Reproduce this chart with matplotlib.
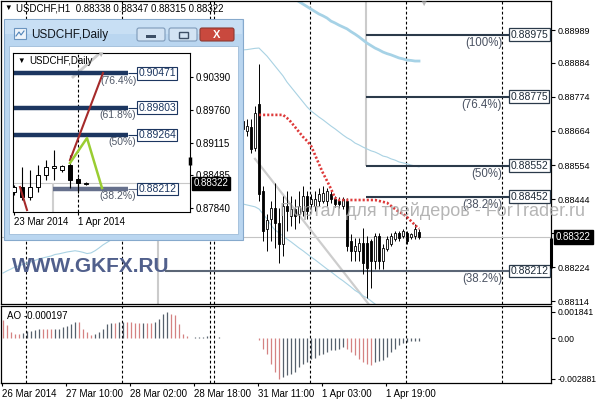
import matplotlib
matplotlib.use('Agg')
import matplotlib.pyplot as plt
import matplotlib.transforms as mtrans
from matplotlib.patches import Rectangle, FancyBboxPatch
import numpy as np

plt.rcParams['font.family'] = ['Liberation Sans', 'DejaVu Sans']

# ---------------- data: USDCHF H1 ----------------
bar0 = 60  # first visible candle index
h1_open = [0.88696, 0.88664, 0.88677, 0.88609, 0.88751, 0.88470, 0.88348, 0.88380, 0.88415, 0.88367,
           0.88299, 0.88422, 0.88390, 0.88412, 0.88396, 0.88406, 0.88454, 0.88428, 0.88422, 0.88438,
           0.88438, 0.88438, 0.88461, 0.88444, 0.88438, 0.88422, 0.88438, 0.88309, 0.88277, 0.88277,
           0.88302, 0.88302, 0.88309, 0.88244, 0.88325, 0.88244, 0.88283, 0.88299, 0.88315, 0.88335,
           0.88325, 0.88335, 0.88322, 0.88325, 0.88338]
h1_high = [0.88713, 0.88703, 0.88703, 0.88745, 0.88881, 0.88486, 0.88396, 0.88438, 0.88496, 0.88415,
           0.88454, 0.88470, 0.88454, 0.88444, 0.88470, 0.88486, 0.88470, 0.88461, 0.88470, 0.88480,
           0.88486, 0.88480, 0.88470, 0.88454, 0.88451, 0.88451, 0.88448, 0.88332, 0.88319, 0.88319,
           0.88351, 0.88325, 0.88315, 0.88335, 0.88335, 0.88299, 0.88325, 0.88335, 0.88341, 0.88341,
           0.88348, 0.88341, 0.88335, 0.88364, 0.88347]
h1_low = [0.88632, 0.88648, 0.88593, 0.88600, 0.88438, 0.88309, 0.88277, 0.88309, 0.88286, 0.88238,
          0.88260, 0.88341, 0.88357, 0.88348, 0.88367, 0.88390, 0.88380, 0.88412, 0.88406, 0.88422,
          0.88432, 0.88422, 0.88432, 0.88419, 0.88415, 0.88412, 0.88277, 0.88244, 0.88244, 0.88244,
          0.88202, 0.88125, 0.88157, 0.88218, 0.88218, 0.88218, 0.88277, 0.88293, 0.88309, 0.88309,
          0.88319, 0.88299, 0.88315, 0.88315, 0.88315]
h1_close = [0.88671, 0.88680, 0.88606, 0.88722, 0.88461, 0.88341, 0.88378, 0.88415, 0.88367, 0.88299,
            0.88422, 0.88406, 0.88412, 0.88390, 0.88422, 0.88454, 0.88406, 0.88444, 0.88444, 0.88461,
            0.88464, 0.88470, 0.88444, 0.88428, 0.88428, 0.88444, 0.88293, 0.88277, 0.88293, 0.88302,
            0.88238, 0.88222, 0.88244, 0.88325, 0.88244, 0.88286, 0.88315, 0.88325, 0.88335, 0.88319,
            0.88341, 0.88309, 0.88332, 0.88348, 0.88322]

sar_start = 64
sar_line = [0.88716] * 7 + [0.88706, 0.88693, 0.88677, 0.88661, 0.88645, 0.88632, 0.88616, 0.88587,
                            0.88557, 0.88528, 0.88503, 0.88477, 0.88448] + [0.88441] * 10 + \
           [0.88438, 0.88435, 0.88432, 0.88422, 0.88412, 0.88403, 0.88396, 0.88386, 0.88373, 0.88360, 0.88348]

thick_start = 72
thick_band = [0.89100, 0.89090, 0.89082, 0.89074, 0.89066, 0.89058, 0.89050, 0.89042, 0.89036, 0.89029,
              0.89019, 0.89013, 0.89006, 0.89000, 0.88994, 0.88985, 0.88977, 0.88968, 0.88958, 0.88948,
              0.88940, 0.88932, 0.88926, 0.88919, 0.88914, 0.88910, 0.88905, 0.88900, 0.88897, 0.88893,
              0.88892, 0.88890, 0.88890]

upper_start = 60
upper_band = [0.88926, 0.88927, 0.88929, 0.88931, 0.88932, 0.88919, 0.88906, 0.88890, 0.88874, 0.88858,
              0.88842, 0.88822, 0.88806, 0.88790, 0.88774, 0.88758, 0.88742, 0.88729, 0.88719, 0.88709,
              0.88700, 0.88690, 0.88680, 0.88671, 0.88661, 0.88651, 0.88642, 0.88635, 0.88625, 0.88619,
              0.88612, 0.88606, 0.88600, 0.88596, 0.88590, 0.88583, 0.88580, 0.88574, 0.88570, 0.88564,
              0.88561, 0.88558, 0.88554, 0.88551, 0.88548]

lower_left = [0.88205, 0.88212, 0.88218, 0.88225, 0.88228, 0.88233, 0.88238, 0.88241, 0.88246, 0.88251,
              0.88254, 0.88257, 0.88260, 0.88265, 0.88267, 0.88270, 0.88273, 0.88275, 0.88277, 0.88275,
              0.88272, 0.88268, 0.88270, 0.88277, 0.88286, 0.88296, 0.88304, 0.88312, 0.88322]
lower_start = 60
lower_right = [0.88428, 0.88425, 0.88422, 0.88419, 0.88412, 0.88396, 0.88380, 0.88360, 0.88344, 0.88335,
               0.88325, 0.88315, 0.88306, 0.88296, 0.88286, 0.88277, 0.88267, 0.88257, 0.88248, 0.88238,
               0.88228, 0.88218, 0.88209, 0.88199, 0.88189, 0.88180, 0.88170, 0.88160, 0.88149, 0.88141,
               0.88131, 0.88125, 0.88115, 0.88105, 0.88096]

trend_x = [63, 91.75]
trend_y = [0.88574, 0.88099]

fib_upper = [0.88975, 0.88775, 0.88552, 0.88452]
fib_upper_pct = ['(100%)', '(76.4%)', '(50%)', '(38.2%)']
fib_lower = 0.88212
fib_lower_pct = '(38.2%)'

main_ticks = [0.88989, 0.88884, 0.88774, 0.88664, 0.88554, 0.88444, 0.88334, 0.88224, 0.88114]
last_price = 0.88322
day_separators = [6, 30, 52, 53, 77, 101, 125]
time_ticks = [0, 16, 32, 48, 64, 80, 96]
time_labels = ['26 Mar 2014', '27 Mar 10:00', '28 Mar 02:00', '28 Mar 18:00',
               '31 Mar 11:00', '1 Apr 03:00', '1 Apr 19:00']

ao_values = [0.00124, 0.00089, 0.00042, 0.00031, 0.00029, 0.00038, 0.00049, 0.00050, 0.00059, 0.00066,
             0.00064, 0.00061, 0.00060, 0.00063, 0.00066, 0.00077, 0.00085, 0.00101, 0.00113, 0.00111,
             0.00066, 0.00042, 0.00019, 0.00030, 0.00042, 0.00066, 0.00096, 0.00106, 0.00104, 0.00110,
             0.00112, 0.00111, 0.00110, 0.00108, 0.00107, 0.00108, 0.00105, 0.00104, 0.00113, 0.00136,
             0.00171, 0.00184, 0.00167, 0.00160, 0.00101, 0.00030, 0.00012, 0.00002, 0.00007, 0.00007,
             0.00008, 0.00012, 0.00003, 0.00000, 0.00004, 0.00003, 0.00002, 0.00000, 0.00000, 0.00002,
             0.00003, 0.00003, 0.00002, 0.00001, -0.00016, -0.00075, -0.00110, -0.00180, -0.00240, -0.00288,
             -0.00275, -0.00263, -0.00251, -0.00239, -0.00204, -0.00181, -0.00169, -0.00146, -0.00141, -0.00122,
             -0.00110, -0.00099, -0.00087, -0.00085, -0.00075, -0.00063, -0.00075, -0.00099, -0.00122, -0.00146,
             -0.00169, -0.00181, -0.00192, -0.00169, -0.00162, -0.00153, -0.00134, -0.00099, -0.00075, -0.00050,
             -0.00035, -0.00027, -0.00023, -0.00021, -0.000197]
ao_ticks = [0.001841, 0.0, -0.002881]
ao_tick_labels = ['0.001841', '0.00', '-0.002881']

# ---------------- data: USDCHF Daily (inset) ----------------
d_open = [0.88154, 0.88251, 0.88056, 0.88251, 0.88486, 0.88622, 0.88583, 0.88681, 0.88407, 0.88320]
d_high = [0.88290, 0.88642, 0.88583, 0.88681, 0.88778, 0.88974, 0.88681, 0.88876, 0.88447, 0.88340]
d_low = [0.88095, 0.87998, 0.87998, 0.88154, 0.88388, 0.88388, 0.88545, 0.88232, 0.88134, 0.88290]
d_close = [0.88251, 0.88056, 0.88251, 0.88486, 0.88642, 0.88661, 0.88661, 0.88388, 0.88329, 0.88322]
d_fib = [0.90471, 0.89803, 0.89264, 0.88212]
d_fib_pct = ['(76.4%)', '(61.8%)', '(50%)', '(38.2%)']
d_ticks = [0.90390, 0.89760, 0.89115, 0.88485, 0.87840]
d_date_ticks = [0, 8]
d_date_labels = ['23 Mar 2014', '1 Apr 2014']
d_red1_x, d_red1_y = [0.75, 1.625], [0.88251, 0.87802]
d_red2_x, d_red2_y = [7, 11.125], [0.88778, 0.90477]
d_green_x, d_green_y = [7, 9.125, 11], [0.88720, 0.89208, 0.88232]
d_grey_x, d_grey_y = [7.375, 10.75], [0.90399, 0.90867]

# ---------------- figure ----------------
W, H = 596, 400
fig = plt.figure(figsize=(W / 100, H / 100), dpi=100)


def pax(x0, y0, x1, y1):
    return fig.add_axes([x0 / W, 1 - y1 / H, (x1 - x0) / W, (y1 - y0) / H])


ov = fig.add_axes([0, 0, 1, 1])
ov.set_xlim(0, W)
ov.set_ylim(H, 0)
ov.axis('off')
ov.set_zorder(2)

fibc = '#2b3a4a'

# main price panel
ax = pax(1, 1, 551, 304)
ax.set_xlim(-0.5, 137)
ax.set_ylim(0.88105, 0.89084)
for s in ax.spines.values():
    s.set_linewidth(0.9)
ax.tick_params(axis='x', bottom=False, labelbottom=False)
ax.yaxis.tick_right()
ax.set_yticks(main_ticks, labels=[f'{v:.5f}' for v in main_ticks])
ax.tick_params(axis='y', length=3, width=0.8, labelsize=6.5, pad=2)

for d in day_separators:
    ax.axvline(d - 0.25, color='black', lw=0.8, ls=(0, (2.5, 2)), zorder=1)
ax.vlines(38.75, 0.88105, 0.88315, color='#cbcbcb', lw=1.5, zorder=1)
ax.vlines(90.75, 0.88551, 0.89084, color='#cbcbcb', lw=1.5, zorder=1)
ax.axhline(last_price, color='#c4c4c4', lw=0.8, zorder=1)

ax.plot(np.arange(len(lower_left)), lower_left, color='#a9d2e3', lw=0.8, zorder=1.2)
ax.plot(lower_start + np.arange(len(lower_right)), lower_right, color='#a9d2e3', lw=0.8, zorder=1.2)
ax.plot(upper_start + np.arange(len(upper_band)), upper_band, color='#a9d2e3', lw=0.8, zorder=1.2)
ax.plot(thick_start + np.arange(len(thick_band)), thick_band, color='#a6d2e6', lw=2.0, zorder=1.2)
ax.plot(trend_x, trend_y, color='#cdcdcd', lw=1.6, zorder=1.1)

ax.text(280, 211, 'Портал для трейдеров - ForTrader.ru', transform=ov.transData, fontsize=13,
        color='#a8a8a8', alpha=0.85, va='center', ha='left', clip_on=False, zorder=5)
ax.text(12, 266, 'WWW.GKFX.RU', transform=ov.transData, fontsize=15, fontweight='bold',
        color='#51608c', va='center', ha='left', clip_on=False, zorder=1.5)

# fibonacci levels
for lvl, pct in zip(fib_upper, fib_upper_pct):
    ax.hlines(lvl, 90.75, 126.5, color=fibc, lw=1.5, zorder=2)
    ax.annotate(pct, xy=(124.75, lvl), xytext=(0, -6), textcoords='offset points', ha='right',
                va='center', fontsize=8.3, color='#4a5262', zorder=2.5)
ax.hlines(fib_lower, 40.5, 126.5, color='#5b6676', lw=1.5, zorder=2)
ax.annotate(fib_lower_pct, xy=(124.75, fib_lower), xytext=(0, -6), textcoords='offset points',
            ha='right', va='center', fontsize=8.3, color='#4a5262', zorder=2.5)
for lvl in fib_upper + [fib_lower]:
    ax.text(126.9, lvl, f'{lvl:.5f}', fontsize=7.5, color='#1e2b38', ha='left', va='center',
            clip_on=False, zorder=6,
            bbox=dict(boxstyle='square,pad=0.12', fc='white', ec=fibc, lw=0.9))

# candles
cx = bar0 + np.arange(len(h1_open))
o, hi, lo, c = map(np.array, (h1_open, h1_high, h1_low, h1_close))
ax.vlines(cx, lo, hi, color='black', lw=0.7, zorder=3)
bull = c >= o
ax.bar(cx, np.maximum(np.abs(c - o), 0.000025), bottom=np.minimum(o, c), width=0.7,
       color=np.where(bull, 'white', 'black'), edgecolor='black', linewidth=0.6, zorder=4)

sx = sar_start + np.arange(len(sar_line))
ax.plot(sx, sar_line, color='#de3a3a', lw=1.9, ls=(0, (0.8, 0.75)), zorder=4.5)

ytr = mtrans.blended_transform_factory(ax.transAxes, ax.transData)
ax.text(1.009, last_price, f'{last_price:.5f}', transform=ytr, color='white', fontsize=7,
        ha='left', va='center', clip_on=False, zorder=7,
        bbox=dict(boxstyle='square,pad=0.18', fc='black', ec='black'))
ax.vlines(137, 0.88222, 0.88319, color='black', lw=2.2, clip_on=False, zorder=6)

# AO panel
aox = pax(1, 306, 551, 383)
aox.set_xlim(-0.5, 137)
aox.set_ylim(-0.003169, 0.002254)
for s in aox.spines.values():
    s.set_linewidth(0.9)
ao = np.array(ao_values)
ao_cols = ['#d48282'] + ['#56606c' if ao[i] >= ao[i - 1] else '#d48282' for i in range(1, len(ao))]
aox.vlines(np.arange(len(ao)), 0, ao, colors=ao_cols, lw=0.9)
for d in day_separators:
    aox.axvline(d - 0.25, color='black', lw=0.8, ls=(0, (2.5, 2)), zorder=1)
aox.yaxis.tick_right()
aox.set_yticks(ao_ticks, labels=ao_tick_labels)
aox.tick_params(axis='y', length=3, width=0.8, labelsize=6.2, pad=1.5)
aox.set_xticks([t - 0.25 for t in time_ticks], labels=time_labels)
aox.tick_params(axis='x', length=2, width=0.8, labelsize=7, pad=2)
for lab in aox.get_xticklabels():
    lab.set_ha('left')

ov.text(7, 316, 'AO -0.000197', fontsize=7, va='center', ha='left')
ov.text(4, 8, '\u25bc', fontsize=5.5, va='center', ha='left')
ov.text(16, 8.5, 'USDCHF,H1  0.88338 0.88347 0.88315 0.88322', fontsize=7, va='center', ha='left')
ov.text(423, 4, '\u25bc', fontsize=6, color='#b8b8b8', va='center', ha='center')

# inset window chrome
ov.add_patch(Rectangle((4, 19), 239, 221, fc='#bad6f0', ec='#86a9cc', lw=0.8))
ov.add_patch(Rectangle((5, 20), 237, 14, fc='#c8dff4', ec='none'))
ov.add_patch(Rectangle((9, 46), 229, 188, fc='white', ec='#9fbcd8', lw=0.6))
ov.add_patch(Rectangle((14, 28), 12, 11, fc='#eef4fa', ec='#6a94bf', lw=0.8))
ov.plot([16, 19, 21, 24], [36, 32, 35, 31], color='#4f83b8', lw=0.8)
ov.text(31, 35, 'USDCHF,Daily', fontsize=8.5, va='center', ha='left', color='#10151c')
ov.add_patch(FancyBboxPatch((137, 28), 28, 13, boxstyle='round,pad=0,rounding_size=2',
                            fc='#d3e3f3', ec='#7d9ab9', lw=0.8))
ov.add_patch(Rectangle((146, 35), 10, 2.5, fc='#3d4f66', ec='none'))
ov.add_patch(FancyBboxPatch((169, 28), 28, 13, boxstyle='round,pad=0,rounding_size=2',
                            fc='#d3e3f3', ec='#7d9ab9', lw=0.8))
ov.add_patch(Rectangle((178.5, 31.5), 9, 6.5, fc='none', ec='#3d4f66', lw=1.0))
ov.add_patch(FancyBboxPatch((200, 28), 34, 13, boxstyle='round,pad=0,rounding_size=2',
                            fc='#c9493e', ec='#8c3a33', lw=0.8))
ov.text(217, 34.5, 'X', fontsize=8, fontweight='bold', color='white', ha='center', va='center')

# inset daily chart
ai = pax(13, 53, 190, 212)
ai.set_zorder(3)
ai.set_xlim(-0.125, 22)
ai.set_ylim(0.87764, 0.90867)
for s in ai.spines.values():
    s.set_linewidth(0.8)
ai.axhline(last_price, color='#c8c8c8', lw=0.8, zorder=1)
ai.axvline(8, color='black', lw=0.8, ls=(0, (2.5, 2)), zorder=1)
ai.vlines(4.875, 0.87764, 0.88329, color='#cfcfcf', lw=1.5, zorder=1)
ai.plot(d_grey_x, d_grey_y, color='#cfcfcf', lw=2, zorder=1)
for lvl, pct in zip(d_fib, d_fib_pct):
    col = '#1c3660' if lvl != d_fib[-1] else '#66708c'
    x_start = -0.125 if lvl != d_fib[-1] else 4.875
    ai.hlines(lvl, x_start, 14.25, color=col, lw=3.2, zorder=2)
    ai.hlines(lvl, 14.25, 15.4, color=col, lw=0.8, zorder=2)
    ai.text(15.55, lvl, f'{lvl:.5f}', fontsize=7.5, color='#1c3660', ha='left', va='center', zorder=6,
            bbox=dict(boxstyle='square,pad=0.12', fc='white', ec='#1c3660', lw=0.8))
    ai.annotate(pct, xy=(15.3, lvl), xytext=(0, -5.2), textcoords='offset points', ha='right',
                va='center', fontsize=7.5, color='#505868', zorder=5)
dk = np.arange(len(d_open))
do, dh, dl, dc = map(np.array, (d_open, d_high, d_low, d_close))
ai.vlines(dk, dl, dh, color='black', lw=0.8, zorder=3)
ai.bar(dk, np.maximum(np.abs(dc - do), 0.00008), bottom=np.minimum(do, dc), width=0.6,
       color=np.where(dc >= do, 'white', 'black'), edgecolor='black', linewidth=0.7, zorder=4)
ai.plot(d_red1_x, d_red1_y, color='#a52a2a', lw=1.5, zorder=4.5)
ai.plot(d_red2_x, d_red2_y, color='#a52a2a', lw=1.5, zorder=4.5)
ai.plot(d_green_x, d_green_y, color='#9acd32', lw=1.8, zorder=4.5)
ai.yaxis.tick_right()
ai.set_yticks(d_ticks, labels=[f'{v:.5f}' for v in d_ticks])
ai.tick_params(axis='y', length=2, width=0.8, labelsize=7, pad=2)
ai.set_xticks(d_date_ticks, labels=d_date_labels)
ai.tick_params(axis='x', length=2, width=0.8, labelsize=7, pad=1.5)
for lab in ai.get_xticklabels():
    lab.set_ha('left')
itr = mtrans.blended_transform_factory(ai.transAxes, ai.transData)
ai.text(1.02, last_price, f'{last_price:.5f}', transform=itr, color='white', fontsize=7,
        ha='left', va='center', clip_on=False, zorder=7,
        bbox=dict(boxstyle='square,pad=0.15', fc='black', ec='black'))
ai.vlines(22, 0.88681, 0.88837, color='black', lw=2.5, clip_on=False, zorder=6)

ov2 = fig.add_axes([0, 0, 1, 1])
ov2.set_xlim(0, W)
ov2.set_ylim(H, 0)
ov2.axis('off')
ov2.set_zorder(4)
ov2.text(17, 61, '\u25bc', fontsize=5.5, va='center', ha='left')
ov2.text(29, 61.5, 'USDCHF,Daily', fontsize=7, va='center', ha='left')
ov2.text(100, 55, '\u25bc', fontsize=6, color='#b8b8b8', va='center', ha='center')

fig.savefig('out.png', dpi=100, facecolor='white')
